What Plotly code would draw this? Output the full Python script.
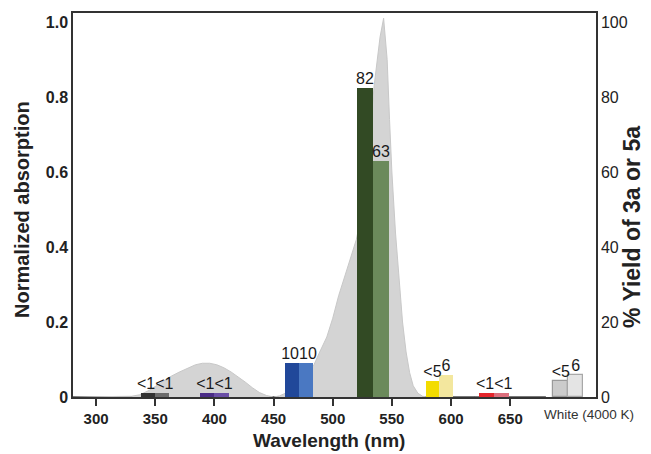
import plotly.graph_objects as go

# Absorption spectrum (normalized)
wavelength = [280, 300, 320, 330, 337, 345, 350, 355, 362, 370, 377, 384, 390, 396, 402, 408,
              414, 420, 426, 432, 438, 444, 450, 455, 460, 466, 472, 478, 484, 489, 495, 500,
              505, 510, 515, 520, 525, 530, 535, 540, 543, 546, 548, 550, 553, 556, 559, 562,
              565, 568, 572, 576, 580, 620, 680]
absorption = [0, 0, 0, 0.002, 0.006, 0.018, 0.028, 0.038, 0.053, 0.066, 0.077, 0.086, 0.09, 0.09,
              0.086, 0.078, 0.067, 0.054, 0.04, 0.025, 0.012, 0.004, 0, 0.003, 0.01, 0.025, 0.045,
              0.065, 0.085, 0.12, 0.16, 0.21, 0.27, 0.32, 0.37, 0.42, 0.5, 0.65, 0.83, 0.96, 1.01,
              0.9, 0.74, 0.6, 0.44, 0.31, 0.2, 0.12, 0.065, 0.03, 0.01, 0.002, 0, 0, 0]

# Yield bars per light source (pair centre on the wavelength axis)
sources = ["350", "400", "470", "530", "590", "640", "White (4000 K)"]
pair_center = [350, 400, 471.5, 534, 590, 636.5, 699]
bar_width = [12, 12, 11.5, 13.5, 11.5, 12.5, 12.5]
yield_3a = [1, 1, 9, 82.5, 4.3, 1, 4.2]
yield_5a = [1, 1, 9, 63, 6, 1, 6]
label_3a = ["<1", "<1", "10", "82", "<5", "<1", "<5"]
label_5a = ["<1", "<1", "10", "63", "6", "<1", "6"]
color_3a = ["#333333", "#4a2c86", "#21489a", "#324a24", "#f3dc00", "#e4262c", "#cbcbcb"]
color_5a = ["#6c6c6c", "#6a4ea6", "#4a78c2", "#6b8a5b", "#f3e79e", "#dc6e7c", "#e4e4e4"]
edge_3a = [0, 0, 0, 0, 0, 0, 1.2]
edge_5a = [0, 0, 0, 0, 0, 0, 1.2]

xticks = [300, 350, 400, 450, 500, 550, 600, 650]
yticks_left = [0, 0.2, 0.4, 0.6, 0.8, 1.0]
yticks_left_text = ["0", "0.2", "0.4", "0.6", "0.8", "1.0"]
yticks_right = [0, 20, 40, 60, 80, 100]

FONT = "Liberation Sans, Arial, sans-serif"
# the page body adds an 8px offset; size the figure to fit inside the window
OFF = 8
W, H = 651 - OFF, 454 - OFF
PL, PR, PT, PB = 73, 596, 13, 397          # plot-area edges in window pixels
ML, MT = PL - OFF, PT - OFF
MR, MB = W - (PR - OFF), H - (PB - OFF)

fig = go.Figure()

fig.add_trace(go.Scatter(
    x=wavelength, y=absorption, mode="lines", fill="tozeroy",
    fillcolor="#d4d4d4", line=dict(color="#c8c8c8", width=1),
    hoverinfo="skip", showlegend=False))

x3 = [c - w / 2 for c, w in zip(pair_center, bar_width)]
x5 = [c + w / 2 for c, w in zip(pair_center, bar_width)]

for xs, ys, cols, edges, ec in [
        (x3, yield_3a, color_3a, edge_3a, "#9a9a9a"),
        (x5, yield_5a, color_5a, edge_5a, "#a8a8a8")]:
    fig.add_trace(go.Bar(
        x=xs, y=ys, width=bar_width, yaxis="y2",
        marker=dict(color=cols, line=dict(color=ec, width=edges)),
        hoverinfo="skip", showlegend=False))

# value labels: pairs of equal height share one joined label over the pair
lab_x, lab_y, lab_t = [], [], []
for i in range(len(sources)):
    if yield_3a[i] == yield_5a[i]:
        lab_x.append(pair_center[i]); lab_y.append(yield_3a[i]); lab_t.append(label_3a[i] + label_5a[i])
    else:
        lab_x += [x3[i], x5[i]]; lab_y += [yield_3a[i], yield_5a[i]]; lab_t += [label_3a[i], label_5a[i]]
fig.add_trace(go.Scatter(
    x=lab_x, y=lab_y, text=lab_t, mode="text", textposition="top center", yaxis="y2",
    textfont=dict(family=FONT, size=16, color="#1a1a1a"), cliponaxis=False,
    hoverinfo="skip", showlegend=False))

# dark baseline of the spectrum trace
fig.add_shape(type="line", xref="x", yref="y", x0=wavelength[0], x1=wavelength[-1], y0=0, y1=0,
              line=dict(color="#2a2a2a", width=2.2), layer="below")

fig.update_layout(
    width=W, height=H,
    margin=dict(l=ML, r=MR, t=MT, b=MB, autoexpand=False),
    paper_bgcolor="white", plot_bgcolor="white",
    barmode="overlay", bargap=0,
    font=dict(family=FONT, color="#222222"),
    xaxis=dict(range=[280.5, 722.5], tickvals=xticks, ticks="outside", ticklen=7, tickwidth=1.5,
               tickcolor="#333333", showline=True, linecolor="#333333", linewidth=1.5, mirror=True,
               showgrid=False, zeroline=False, automargin=False,
               tickfont=dict(family=FONT, size=15, color="#222222", weight="bold")),
    yaxis=dict(range=[0, 1.024], tickvals=yticks_left, ticktext=yticks_left_text, ticks="",
               showline=True, linecolor="#333333", linewidth=1.5, showgrid=False, zeroline=False,
               automargin=False,
               tickfont=dict(family=FONT, size=16, color="#222222", weight="bold")),
    yaxis2=dict(range=[0, 102.4], tickvals=yticks_right, ticks="", overlaying="y", side="right",
                showline=True, linecolor="#333333", linewidth=1.5, showgrid=False, zeroline=False,
                automargin=False,
                tickfont=dict(family=FONT, size=16, color="#222222")),
)


def px_to_paper_x(px):
    return (px - PL) / (PR - PL)


def px_to_paper_y(py):
    return (PB - py) / (PB - PT)


def label(text, px, py, size, angle=0, color="#222222"):
    fig.add_annotation(text=text, x=px_to_paper_x(px), y=px_to_paper_y(py),
                       xref="paper", yref="paper", showarrow=False, textangle=angle,
                       xanchor="center", yanchor="middle",
                       font=dict(family=FONT, size=size, color=color))


label("White (4000 K)", 589, 414, 13.5, color="#333333")
label("<b>Wavelength (nm)</b>", 329, 440, 19)
label("<b>Normalized absorption</b>", 22, 210, 20, angle=-90)
label("<b>% Yield of 3a or 5a</b>", 632, 227, 23, angle=-90)

fig.write_html("out.html")
